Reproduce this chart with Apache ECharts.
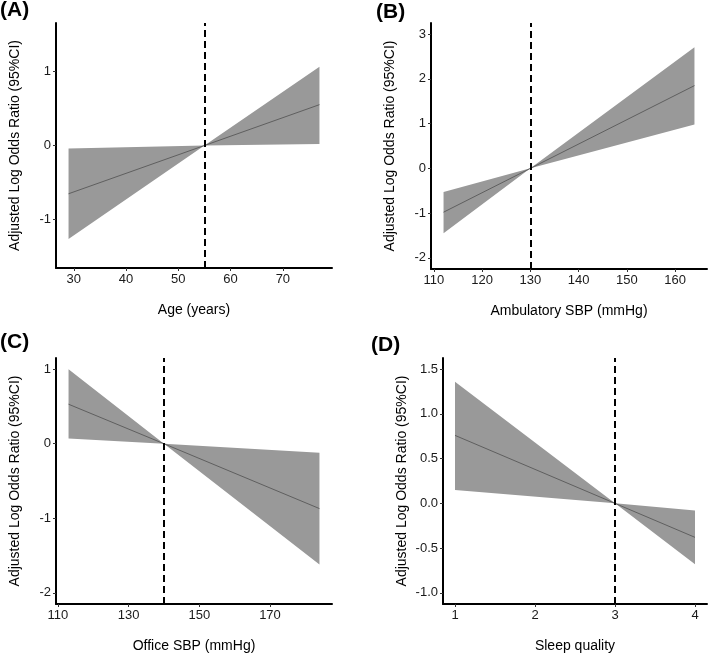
<!DOCTYPE html>
<html>
<head>
<meta charset="utf-8">
<script src="https://cdn.jsdelivr.net/npm/echarts@6/dist/echarts.min.js"></script>
<style>
html,body{margin:0;padding:0;background:#fff;}
#chart{width:708px;height:655px;}
</style>
</head>
<body>
<div id="chart"></div>
<script>
// ---- Data ----
// Panel A: Age
const ageX = [29, 55, 77];
const ageFit = [-0.65, 0, 0.55];
const ageLower = [-1.26, 0, 0.02];
const ageUpper = [-0.04, 0, 1.06];
const ageRef = 55;
const ageXTicks = [30, 40, 50, 60, 70];
const ageYTicks = ["-1", "0", "1"];

// Panel B: Ambulatory SBP
const ambX = [112, 130, 164];
const ambFit = [-0.98, 0, 1.85];
const ambLower = [-1.45, 0, 0.98];
const ambUpper = [-0.53, 0, 2.71];
const ambRef = 130;
const ambXTicks = [110, 120, 130, 140, 150, 160];
const ambYTicks = ["-2", "-1", "0", "1", "2", "3"];

// Panel C: Office SBP
const offX = [113, 140, 184];
const offFit = [0.53, 0, -0.87];
const offLower = [0.07, 0, -1.62];
const offUpper = [1.0, 0, -0.12];
const offRef = 140;
const offXTicks = [110, 130, 150, 170];
const offYTicks = ["-2", "-1", "0", "1"];

// Panel D: Sleep quality
const slpX = [1, 3, 4];
const slpFit = [0.76, 0, -0.38];
const slpLower = [0.15, 0, -0.68];
const slpUpper = [1.36, 0, -0.08];
const slpRef = 3;
const slpXTicks = [1, 2, 3, 4];
const slpYTicks = ["-1.0", "-0.5", "0.0", "0.5", "1.0", "1.5"];

const panelLabels = ["(A)", "(B)", "(C)", "(D)"];
const xTitles = ["Age (years)", "Ambulatory SBP (mmHg)", "Office SBP (mmHg)", "Sleep quality"];
const yTitle = "Adjusted Log Odds Ratio (95%CI)";

// ---- Layout / style ----
const FONT = "Liberation Sans, Arial, sans-serif";
const panels = [
  {x: ageX, fit: ageFit, lo: ageLower, up: ageUpper, ref: ageRef, xt: ageXTicks, yt: ageYTicks,
   xr: [26.6, 79.4], yr: [-1.65, 1.65], grid: {left: 56, top: 23, width: 276, height: 245}},
  {x: ambX, fit: ambFit, lo: ambLower, up: ambUpper, ref: ambRef, xt: ambXTicks, yt: ambYTicks,
   xr: [109.4, 166.6], yr: [-2.25, 3.25], grid: {left: 431, top: 23, width: 276, height: 246}},
  {x: offX, fit: offFit, lo: offLower, up: offUpper, ref: offRef, xt: offXTicks, yt: offYTicks,
   xr: [109.45, 187.55], yr: [-2.15, 1.15], grid: {left: 56, top: 358, width: 276, height: 246}},
  {x: slpX, fit: slpFit, lo: slpLower, up: slpUpper, ref: slpRef, xt: slpXTicks, yt: slpYTicks,
   xr: [0.85, 4.15], yr: [-1.125, 1.625], grid: {left: 443, top: 358, width: 264, height: 246}}
];
const labelPos = [[0, 0], [376, 2], [0, 332], [371, 335]];

const grids = [], xAxes = [], yAxes = [], series = [];
panels.forEach((p, i) => {
  grids.push(Object.assign({outerBoundsMode: 'none', containLabel: false}, p.grid));
  const axisLine = {show: true, onZero: false, lineStyle: {color: '#000', width: 2}};
  const axisTick = {show: true, length: 3, inside: false, lineStyle: {color: '#333', width: 1}};
  xAxes.push({
    type: 'value', gridIndex: i, min: p.xr[0], max: p.xr[1],
    axisLine: axisLine,
    axisTick: Object.assign({customValues: p.xt}, axisTick),
    axisLabel: {customValues: p.xt, color: '#1a1a1a', fontSize: 13, fontFamily: FONT, margin: 5},
    splitLine: {show: false},
    name: xTitles[i], nameLocation: 'middle', nameGap: 35,
    nameTextStyle: {color: '#000', fontSize: 14, fontFamily: FONT}
  });
  const yVals = p.yt.map(Number);
  yAxes.push({
    type: 'value', gridIndex: i, min: p.yr[0], max: p.yr[1],
    axisLine: axisLine,
    axisTick: Object.assign({customValues: yVals}, axisTick),
    axisLabel: {customValues: yVals, color: '#1a1a1a', fontSize: 13, fontFamily: FONT, margin: 5,
      formatter: v => { const k = yVals.findIndex(t => Math.abs(t - v) < 1e-9); return k >= 0 ? p.yt[k] : ''; }},
    splitLine: {show: false},
    name: yTitle, nameLocation: 'middle', nameGap: 34, nameRotate: 90,
    nameTextStyle: {color: '#000', fontSize: 14, fontFamily: FONT}
  });
  // confidence band drawn as a polygon through the axes' coordinate system
  series.push({
    type: 'custom', xAxisIndex: i, yAxisIndex: i, silent: true, z: 1,
    data: p.x.map((x, k) => [x, p.lo[k], p.up[k]]),
    encode: {x: 0, y: [1, 2]},
    renderItem: (params, api) => {
      if (params.dataIndex !== 0) return null;
      const upPts = p.x.map((x, k) => api.coord([x, p.up[k]]));
      const loPts = p.x.map((x, k) => api.coord([x, p.lo[k]])).reverse();
      return {type: 'polygon', shape: {points: upPts.concat(loPts)}, style: {fill: '#999999'}};
    }
  });
  series.push({
    type: 'line', xAxisIndex: i, yAxisIndex: i,
    data: p.x.map((x, k) => [x, p.fit[k]]), symbol: 'none', silent: true,
    lineStyle: {color: '#5f5f5f', width: 1}, z: 2,
    markLine: {silent: true, symbol: 'none', label: {show: false},
      lineStyle: {color: '#000', width: 2, type: [7, 4]},
      data: [{xAxis: p.ref}]}
  });
});

const graphics = panelLabels.map((t, i) => ({
  type: 'text', left: labelPos[i][0], top: labelPos[i][1],
  style: {text: t, fontSize: 21, fontWeight: 'bold', fontFamily: FONT, fill: '#000'}
}));

const chart = echarts.init(document.getElementById('chart'), null, {renderer: 'canvas'});
chart.setOption({
  animation: false,
  grid: grids, xAxis: xAxes, yAxis: yAxes, series: series,
  graphic: graphics
});
</script>
</body>
</html>
